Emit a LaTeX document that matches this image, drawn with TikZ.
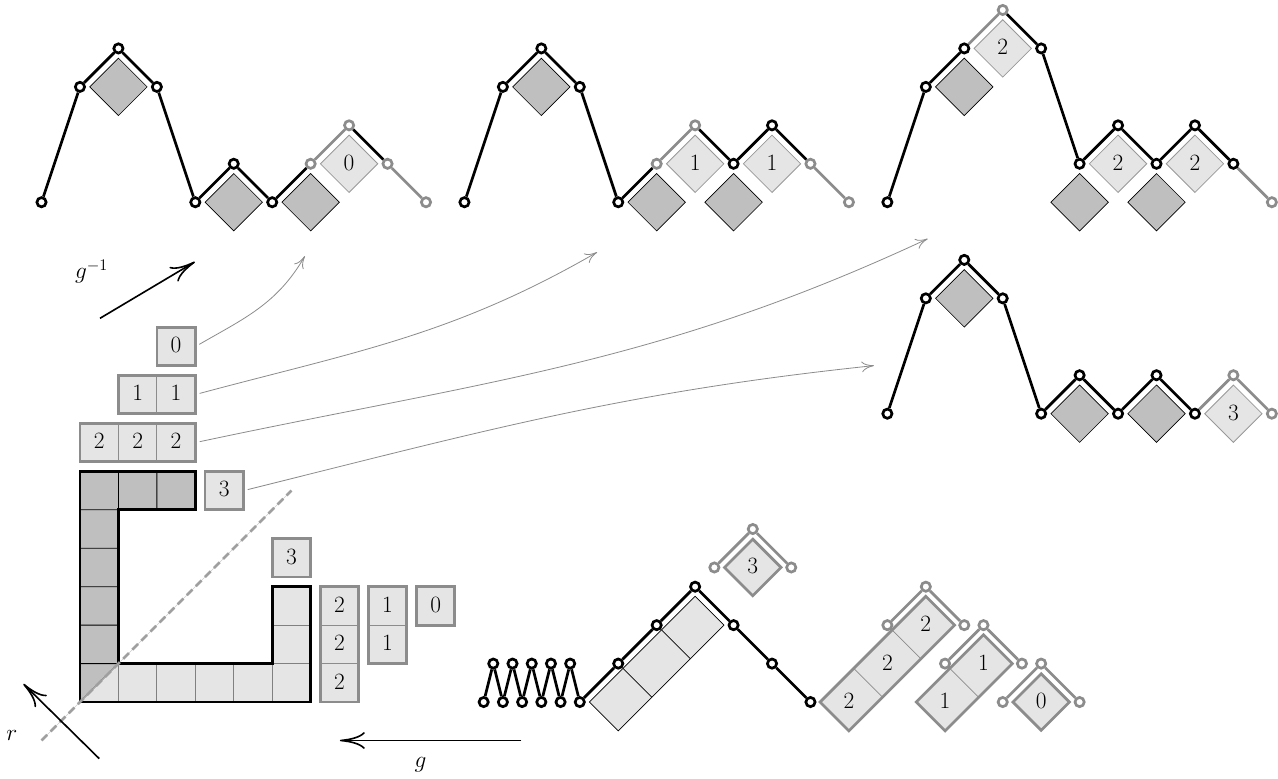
\documentclass[tikz,border=0pt]{standalone}
\usetikzlibrary{arrows.meta,shapes.geometric}
\tikzset{
  vtx/.style={circle, draw, fill=white, line width=2pt, inner sep=0pt, minimum size=2.4mm},
  gvtx/.style={vtx, draw=gray!90},
  blk/.style={line width=2pt},
  gry/.style={line width=2pt, draw=gray!90},
  lbl/.style={font=\LARGE, text height=2.2ex, text depth=0pt},
  dkcell/.style={diamond, draw, fill=gray!50, line width=0.5pt, minimum size=1.5cm, inner sep=0pt},
  ltcell/.style={diamond, draw=gray!80, fill=gray!20, line width=0.6pt, minimum size=1.5cm, inner sep=0pt, lbl},
  gcell/.style={ltcell, draw=gray!90, line width=2pt},
  tcell/.style={rectangle, draw=gray!90, fill=gray!20, line width=0.6pt, minimum size=1cm, inner sep=0pt, lbl},
  tframe/.style={draw=gray!90, line width=2pt},
  bstrip/.style={draw, fill=gray!20, line width=0.5pt},
  gstrip/.style={draw=gray!90, fill=gray!20, line width=2pt},
  gdiv/.style={draw=gray!90, line width=0.5pt},
  garrow/.style={draw=gray!90, line width=0.6pt, shorten <=3pt, -{Computer Modern Rightarrow[length=3.2mm,width=2.8mm]}},
  barrow/.style={line width=1.2pt, -{Computer Modern Rightarrow[length=6.5mm,width=4.4mm]}},
}
\begin{document}
\begin{tikzpicture}
\useasboundingbox (-2.08,-1.98) rectangle (31.16,18.26);

% young diagram
\fill[gray!50] (0,1) rectangle (1,6) (1,5) rectangle (3,6) (0,0) -- (0,1) -- (1,1) -- cycle;
\fill[gray!20] (1,0) rectangle (6,1) (5,1) rectangle (6,3) (0,0) -- (1,0) -- (1,1) -- cycle;
\draw[gray, line width=0.6pt] (1,0) grid (6,1) (5,1) grid (6,3) (0,0) -- (1,0) -- (1,1);
\draw[line width=0.6pt] (0,1) grid (1,6) (1,5) grid (3,6) (0,0) -- (1,1);
\draw[line width=2pt] (0,0) -- (6,0) -- (6,3) -- (5,3) -- (5,1) -- (1,1) -- (1,5) -- (3,5) -- (3,6) -- (0,6) -- cycle;
\draw[gray!40, line width=0.5pt] (-1,-1) -- (5.5,5.5);
\draw[gray!75, line width=2pt, dash pattern=on 6pt off 3.5pt] (-1,-1) -- (5.5,5.5);

% rows and columns
\node[tcell] (r0) at (2.5,9.25) {0};
\node[tcell] (r1a) at (1.5,8) {1};
\node[tcell] (r1b) at (2.5,8) {1};
\node[tcell] (r2a) at (0.5,6.75) {2};
\node[tcell] (r2b) at (1.5,6.75) {2};
\node[tcell] (r2c) at (2.5,6.75) {2};
\node[tcell] (r3) at (3.75,5.5) {3};
\node[tcell] (k3) at (5.5,3.75) {3};
\node[tcell] (k2a) at (6.75,2.5) {2};
\node[tcell] (k2b) at (6.75,1.5) {2};
\node[tcell] (k2c) at (6.75,0.5) {2};
\node[tcell] (k1a) at (8,2.5) {1};
\node[tcell] (k1b) at (8,1.5) {1};
\node[tcell] (k0) at (9.25,2.5) {0};
\draw[tframe] (2,8.75) rectangle (3,9.75) (1,7.5) rectangle (3,8.5) (0,6.25) rectangle (3,7.25)
  (3.25,5) rectangle (4.25,6) (5,3.25) rectangle (6,4.25) (6.25,0) rectangle (7.25,3)
  (7.5,1) rectangle (8.5,3) (8.75,2) rectangle (9.75,3);

% path A
\foreach \x/\y/\s [count=\i from 0] in {-1/13/vtx,0/16/vtx,1/17/vtx,2/16/vtx,3/13/vtx,4/14/vtx,5/13/vtx,6/14/gvtx,7/15/gvtx,8/14/gvtx,9/13/gvtx}
  \node[\s] (a\i) at (\x,\y) {};
\foreach \i/\j/\s in {0/1/blk,1/2/blk,2/3/blk,3/4/blk,4/5/blk,5/6/blk,6/7/blk,7/8/gry,8/9/blk,9/10/gry}
  \draw[\s] (a\i) -- (a\j);
\node[dkcell] (ad1) at (1,16) {};
\node[dkcell] (ad2) at (4,13) {};
\node[dkcell] (ad3) at (6,13) {};
\node[ltcell] (al1) at (7,14) {0};

% path B
\foreach \x/\y/\s [count=\i from 0] in {10/13/vtx,11/16/vtx,12/17/vtx,13/16/vtx,14/13/vtx,15/14/gvtx,16/15/gvtx,17/14/vtx,18/15/vtx,19/14/gvtx,20/13/gvtx}
  \node[\s] (b\i) at (\x,\y) {};
\foreach \i/\j/\s in {0/1/blk,1/2/blk,2/3/blk,3/4/blk,4/5/blk,5/6/gry,6/7/blk,7/8/blk,8/9/blk,9/10/gry}
  \draw[\s] (b\i) -- (b\j);
\node[dkcell] (bd1) at (12,16) {};
\node[dkcell] (bd2) at (15,13) {};
\node[dkcell] (bd3) at (17,13) {};
\node[ltcell] (bl1) at (16,14) {1};
\node[ltcell] (bl2) at (18,14) {1};

% path C
\foreach \x/\y/\s [count=\i from 0] in {21/13/vtx,22/16/vtx,23/17/vtx,24/18/gvtx,25/17/vtx,26/14/vtx,27/15/vtx,28/14/vtx,29/15/vtx,30/14/vtx,31/13/gvtx}
  \node[\s] (c\i) at (\x,\y) {};
\foreach \i/\j/\s in {0/1/blk,1/2/blk,2/3/gry,3/4/blk,4/5/blk,5/6/blk,6/7/blk,7/8/blk,8/9/blk,9/10/gry}
  \draw[\s] (c\i) -- (c\j);
\node[dkcell] (cd1) at (23,16) {};
\node[dkcell] (cd2) at (26,13) {};
\node[dkcell] (cd3) at (28,13) {};
\node[ltcell] (cl1) at (24,17) {2};
\node[ltcell] (cl2) at (27,14) {2};
\node[ltcell] (cl3) at (29,14) {2};

% path D
\foreach \x/\y/\s [count=\i from 0] in {21/7.5/vtx,22/10.5/vtx,23/11.5/vtx,24/10.5/vtx,25/7.5/vtx,26/8.5/vtx,27/7.5/vtx,28/8.5/vtx,29/7.5/vtx,30/8.5/gvtx,31/7.5/gvtx}
  \node[\s] (d\i) at (\x,\y) {};
\foreach \i/\j/\s in {0/1/blk,1/2/blk,2/3/blk,3/4/blk,4/5/blk,5/6/blk,6/7/blk,7/8/blk,8/9/gry,9/10/gry}
  \draw[\s] (d\i) -- (d\j);
\node[dkcell] (dd1) at (23,10.5) {};
\node[dkcell] (dd2) at (26,7.5) {};
\node[dkcell] (dd3) at (28,7.5) {};
\node[ltcell] (dl1) at (30,7.5) {3};

% bottom path
\draw[bstrip] (13.25,0) -- (14,-0.75) -- (16.75,2) -- (16,2.75) -- cycle;
\foreach \k in {0,1}
  \draw[line width=0.5pt] (14.125,0.875) ++(\k,\k) -- ++(0.75,-0.75);
\foreach \k in {0,...,5}
  \node[vtx] (zb\k) at (10.5+0.5*\k,0) {};
\foreach \k in {0,...,4}
  \node[vtx] (zt\k) at (10.75+0.5*\k,1) {};
\foreach \k [count=\n from 1] in {0,...,4}
  \draw[blk] (zb\k) -- (zt\k) -- (zb\n);
\foreach \x/\y [count=\i] in {14/1,15/2,16/3,17/2,18/1,19/0}
  \node[vtx] (e\i) at (\x,\y) {};
\draw[blk] (zb5) -- (e1) -- (e2) -- (e3) -- (e4) -- (e5) -- (e6);

% removed pieces
\node[gcell] (q3) at (17.5,3.5) {3};
\node[gvtx] (q3a) at (16.5,3.5) {};
\node[gvtx] (q3b) at (17.5,4.5) {};
\node[gvtx] (q3c) at (18.5,3.5) {};
\draw[gry] (q3a) -- (q3b) -- (q3c);

\draw[gstrip] (19.25,0) -- (20,-0.75) -- (22.75,2) -- (22,2.75) -- cycle;
\foreach \k in {0,1}
  \draw[gdiv] (20.125,0.875) ++(\k,\k) -- ++(0.75,-0.75);
\foreach \k in {0,1,2}
  \node[lbl] (s2\k) at (20+\k,\k) {2};
\node[gvtx] (q2a) at (21,2) {};
\node[gvtx] (q2b) at (22,3) {};
\node[gvtx] (q2c) at (23,2) {};
\draw[gry] (q2a) -- (q2b) -- (q2c);

\draw[gstrip] (21.75,0) -- (22.5,-0.75) -- (24.25,1) -- (23.5,1.75) -- cycle;
\draw[gdiv] (22.625,0.875) -- ++(0.75,-0.75);
\foreach \k in {0,1}
  \node[lbl] (s1\k) at (22.5+\k,\k) {1};
\node[gvtx] (q1a) at (22.5,1) {};
\node[gvtx] (q1b) at (23.5,2) {};
\node[gvtx] (q1c) at (24.5,1) {};
\draw[gry] (q1a) -- (q1b) -- (q1c);

\node[gcell] (q0) at (25,0) {0};
\node[gvtx] (q0a) at (24,0) {};
\node[gvtx] (q0b) at (25,1) {};
\node[gvtx] (q0c) at (26,0) {};
\draw[gry] (q0a) -- (q0b) -- (q0c);

% arrows
\coordinate (t0) at (5.85,11.6);
\coordinate (t1) at (13.45,11.7);
\coordinate (t2) at (22.05,12.05);
\coordinate (t3) at (20.65,8.75);
\draw[garrow] (r0.east) to[out=30,in=-120] (t0);
\draw[garrow] (r1b.east) to[out=15,in=-150] (t1);
\draw[garrow] (r2c.east) to[out=12,in=-155] (t2);
\draw[garrow] (r3.east) to[out=14,in=-174] (t3);

\coordinate (gs) at (11.48,-1);
\coordinate (ge) at (6.76,-1);
\draw[barrow] (gs) -- (ge);
\node[font=\LARGE] (glab) at (8.86,-1.64) {$g$};
\coordinate (rs) at (0.5,-1.47);
\coordinate (re) at (-1.47,0.47);
\draw[barrow] (rs) -- (re);
\node[font=\LARGE] (rlab) at (-1.77,-0.86) {$r$};
\coordinate (hs) at (0.52,9.98);
\coordinate (he) at (2.99,11.45);
\draw[barrow] (hs) -- (he);
\node[font=\LARGE] (hlab) at (0.3,11.2) {$g^{-1}$};
\end{tikzpicture}
\end{document}
